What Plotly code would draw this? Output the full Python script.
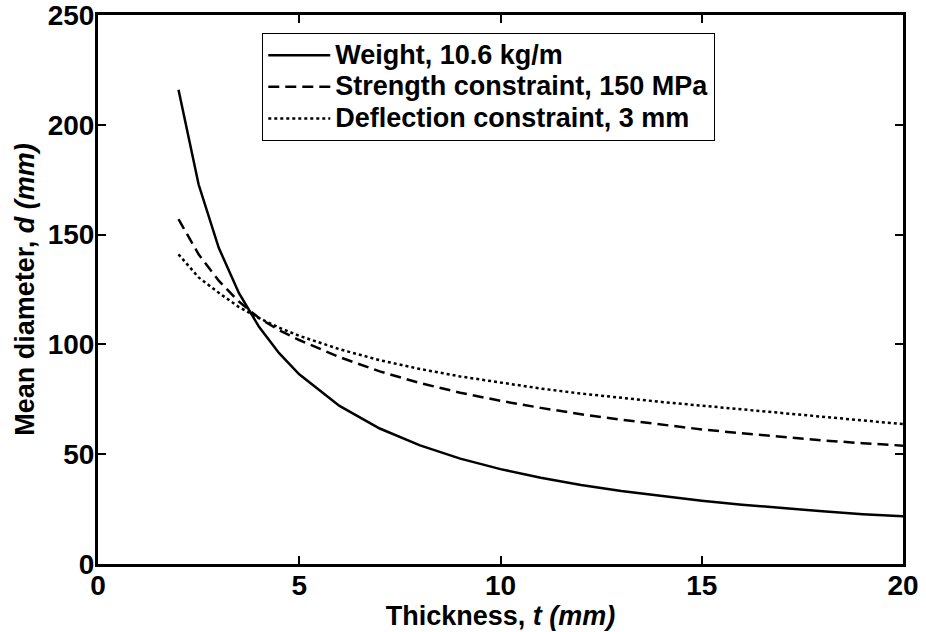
import plotly.graph_objects as go

# Thickness values (mm)
thickness = [2, 2.5, 3, 3.5, 4, 4.5, 5, 6, 7, 8, 9, 10, 11, 12, 13, 14, 15, 16, 17, 18, 19, 20]
# Mean diameter (mm) for each curve
weight = [216, 172.8, 144, 123.4, 108, 96, 86.4, 72, 61.7, 54, 48, 43.2, 39.3, 36, 33.2, 30.9, 28.8, 27, 25.4, 24, 22.7, 21.8]
strength = [157, 141, 129, 119.5, 112, 106.5, 102, 94.2, 87.7, 82.4, 78, 74.3, 71.1, 68.2, 65.7, 63.5, 61.3, 59.5, 57.8, 56.3, 55, 53.9]
deflection = [141, 130.5, 123.5, 117.0, 112, 107.6, 103.9, 97.8, 92.8, 88.8, 85.4, 82.5, 79.9, 77.6, 75.6, 73.8, 72.1, 70.4, 68.6, 66.9, 65.2, 63.7]

names = ["Weight, 10.6 kg/m", "Strength constraint, 150 MPa", "Deflection constraint, 3 mm"]
x_ticks = [0, 5, 10, 15, 20]
y_ticks = [0, 50, 100, 150, 200, 250]

FONT = "Liberation Sans, Arial, sans-serif"


def legend_label(s):
    return '<span style="font-size:27px">' + s + '</span>'


fig = go.Figure()
fig.add_trace(go.Scatter(x=thickness, y=weight, mode="lines", name=legend_label(names[0]),
                         line=dict(color="black", width=2.5, dash="solid")))
fig.add_trace(go.Scatter(x=thickness, y=strength, mode="lines", name=legend_label(names[1]),
                         line=dict(color="black", width=2.5, dash="11px,6px")))
fig.add_trace(go.Scatter(x=thickness, y=deflection, mode="lines", name=legend_label(names[2]),
                         line=dict(color="black", width=2.5, dash="3px,3px")))

axis_common = dict(
    showgrid=False, zeroline=False,
    showline=True, linecolor="black", linewidth=3,
    mirror="ticks", ticks="inside", ticklen=8, tickwidth=2, tickcolor="black",
    tickfont=dict(family=FONT, size=28, color="black", weight="bold"),
    ticklabeloverflow="allow",
)

fig.update_layout(
    width=926, height=632,
    margin=dict(l=98, r=23, t=15, b=68, autoexpand=False),
    paper_bgcolor="white", plot_bgcolor="white",
    font=dict(family=FONT, color="black", weight="bold"),
    xaxis=dict(range=[0, 20], tickvals=x_ticks, ticktext=[str(v) for v in x_ticks],
               ticklabelstandoff=-6,
               title=dict(text="Thickness, <i>t (mm)</i>", standoff=0,
                          font=dict(family=FONT, size=27, color="black", weight="bold")),
               automargin=False, **axis_common),
    yaxis=dict(range=[0, 250], tickvals=y_ticks, ticktext=[str(v) for v in y_ticks],
               ticklabelstandoff=-5,
               title=dict(text="Mean diameter, <i>d (mm)</i>", standoff=6,
                          font=dict(family=FONT, size=27, color="black", weight="bold")),
               automargin=False, **axis_common),
    legend=dict(x=0.2037, y=0.967, xanchor="left", yanchor="top",
                bgcolor="white", bordercolor="black", borderwidth=1.3,
                font=dict(family=FONT, size=22, color="black", weight="bold"),
                itemwidth=62, tracegroupgap=0),
    showlegend=True,
)

fig.write_html("out.html", config={"displayModeBar": False},
               post_script="document.body.style.margin='0px';")
